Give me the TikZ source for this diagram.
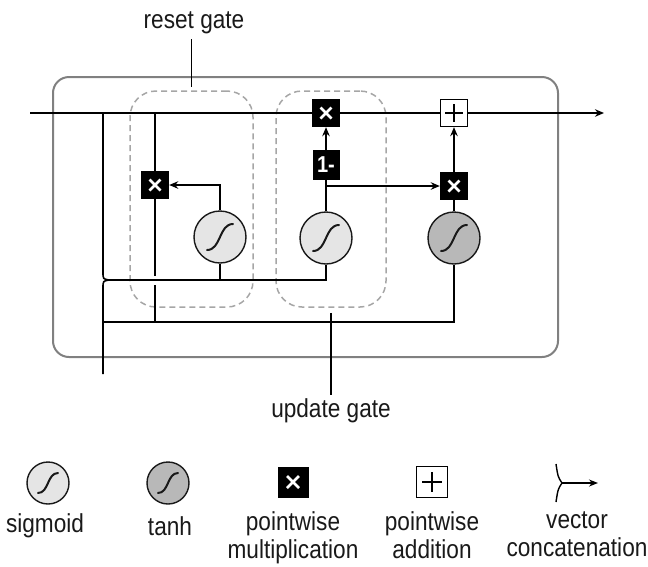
\documentclass[tikz,border=0pt]{standalone}
\usepackage{fontspec}
\setmainfont{Liberation Sans}[FakeStretch=0.87]
\usetikzlibrary{arrows.meta,calc}
\newcommand\myscurve[1]{\draw[line width=2pt,line cap=round]
  ([xshift=-#1pt,yshift=-#1pt]path picture bounding box.center)
  .. controls ([xshift=0.1*#1pt,yshift=-#1pt]path picture bounding box.center)
  and ([xshift=-0.1*#1pt,yshift=#1pt]path picture bounding box.center)
  .. ([xshift=#1pt,yshift=#1pt]path picture bounding box.center);}
\newcommand\mycross[1]{\draw[white,line width=2.8pt]
  ([xshift=-#1pt,yshift=-#1pt]path picture bounding box.center) --
  ([xshift=#1pt,yshift=#1pt]path picture bounding box.center)
  ([xshift=-#1pt,yshift=#1pt]path picture bounding box.center) --
  ([xshift=#1pt,yshift=-#1pt]path picture bounding box.center);}
\newcommand\myplus[1]{\draw[black,line width=1.3pt]
  ([xshift=-#1pt]path picture bounding box.center) --
  ([xshift=#1pt]path picture bounding box.center)
  ([yshift=#1pt]path picture bounding box.center) --
  ([yshift=-#1pt]path picture bounding box.center);}
\begin{document}
\begin{tikzpicture}[x=1pt,y=-1pt,
  wire/.style={line width=1.6pt,black},
  arr/.style={wire,-{Stealth[length=9pt,width=7.5pt]}},
  sig/.style={circle,draw=black!90,line width=1.4pt,fill=black!10,minimum size=52pt,inner sep=0pt,path picture={\myscurve{13}}},
  tnh/.style={circle,draw=black!90,line width=1.4pt,fill=black!28,minimum size=52pt,inner sep=0pt,path picture={\myscurve{13}}},
  lsig/.style={circle,draw=black!90,line width=1.4pt,fill=black!10,minimum size=42pt,inner sep=0pt,path picture={\myscurve{10}}},
  ltnh/.style={circle,draw=black!90,line width=1.4pt,fill=black!28,minimum size=42pt,inner sep=0pt,path picture={\myscurve{10}}},
  mul/.style={rectangle,fill=black,minimum size=28pt,inner sep=0pt,path picture={\mycross{5.5}}},
  lmul/.style={rectangle,fill=black,minimum size=31pt,inner sep=0pt,path picture={\mycross{6}}},
  addbox/.style={rectangle,draw=black,line width=1.3pt,fill=white,minimum size=27pt,inner sep=0pt,path picture={\myplus{9}}},
  laddbox/.style={rectangle,draw=black,line width=1.3pt,fill=white,minimum size=31pt,inner sep=0pt,path picture={\myplus{10}}},
  onebox/.style={rectangle,fill=black,minimum width=27pt,minimum height=30pt,inner sep=0pt,text=white,font=\bfseries\fontsize{23}{23}\selectfont},
  gatebox/.style={rectangle,draw=black!35,dash pattern=on 6pt off 4pt,line width=1.5pt,rounded corners=26pt,inner sep=0pt},
  outerbox/.style={rectangle,draw=black!50,line width=2pt,rounded corners=16pt,inner sep=0pt},
  lbl/.style={font=\fontsize{26}{28}\selectfont,text=black!90,align=center,inner sep=0pt}]
\useasboundingbox (0,0) rectangle (648,566);

% frames
\node[outerbox,minimum width=505pt,minimum height=280pt] (cell) at (305.5,217) {};
\node[gatebox,minimum width=123pt,minimum height=216pt] (rg) at (191.5,199) {};
\node[gatebox,minimum width=110pt,minimum height=216pt] (ug) at (331,199) {};

% operators
\node[sig] (s1) at (220,237) {};
\node[sig] (s2) at (326,238) {};
\node[tnh] (th) at (454,238) {};
\node[mul] (rm) at (155,185) {};
\node[mul] (um) at (326,113) {};
\node[onebox] (om) at (326,165) {1-};
\node[mul] (tm) at (454,186) {};
\node[addbox] (pl) at (454,113) {};

% coordinates
\coordinate (in) at (30,113);
\coordinate (out) at (604,113);
\coordinate (hj) at (103,113);
\coordinate (rj) at (155,113);
\coordinate (ct) at (103,272);
\coordinate (cb) at (103,288);
\coordinate (cv) at (109,280);
\coordinate (xin) at (103,374);
\coordinate (xj) at (103,322);
\coordinate (r1) at (155,276);
\coordinate (r2) at (155,285);
\coordinate (rb) at (155,322);
\coordinate (s2b) at (326,280);
\coordinate (s1b) at (220,280);
\coordinate (thb) at (454,322);
\coordinate (s1t) at (220,185);
\coordinate (br) at (326,186);

% wires
\draw[wire] (in) -- (um.west);
\draw[wire] (um.east) -- (pl.west);
\draw[arr] (pl.east) -- (out);
\draw[wire] (hj) -- (ct) .. controls (103,279) .. (cv);
\draw[wire] (xin) -- (cb) .. controls (103,281) .. (cv);
\draw[wire] (cv) -- (s2b) -- (s2.south);
\draw[wire] (s1.south) -- (s1b);
\draw[wire] (rj) -- (rm.north);
\draw[wire] (rm.south) -- (r1);
\draw[wire] (r2) -- (rb);
\draw[wire] (xj) -- (thb) -- (th.south);
\draw[arr] (s1.north) -- (s1t) -- (rm.east);
\draw[wire] (s2.north) -- (om.south);
\draw[arr] (om.north) -- (um.south);
\draw[arr] (br) -- (tm.west);
\draw[wire] (th.north) -- (tm.south);
\draw[arr] (tm.north) -- (pl.south);

% gate labels
\node[lbl] (rl) at (194,23) {reset gate};
\draw[wire,shorten >=3pt] (rl.south -| rg.north) ++(0,5) -- (rg.north);
\node[lbl] (ul) at (331,411) {update gate};
\draw[wire,shorten <=5pt,shorten >=4pt] (ug.south) -- (ug.south |- ul.north);

% legend
\node[lsig] (ls) at (48,483) {};
\node[ltnh] (lt) at (168,483) {};
\node[lmul] (lm) at (293,482) {};
\node[laddbox] (la) at (432,482) {};
\coordinate (lca) at (556,464);
\coordinate (lcb) at (556,502);
\coordinate (lcv) at (562,483);
\coordinate (lco) at (598,483);
\draw[line width=1.4pt] (lca) .. controls (558,477) .. (lcv);
\draw[line width=1.4pt] (lcb) .. controls (558,489) .. (lcv);
\draw[line width=1.4pt,-{Stealth[length=9pt,width=7pt]}] (lcv) -- (lco);

\node[lbl] (lsl) at (45,526) {sigmoid};
\node[lbl] (ltl) at (170,526) {tanh};
\node[lbl,anchor=north] (lml) at (293,511) {pointwise\\multiplication};
\node[lbl,anchor=north] (lal) at (432,511) {pointwise\\addition};
\node[lbl,anchor=north] (lcl) at (577,511) {vector\\concatenation};
\end{tikzpicture}
\end{document}
